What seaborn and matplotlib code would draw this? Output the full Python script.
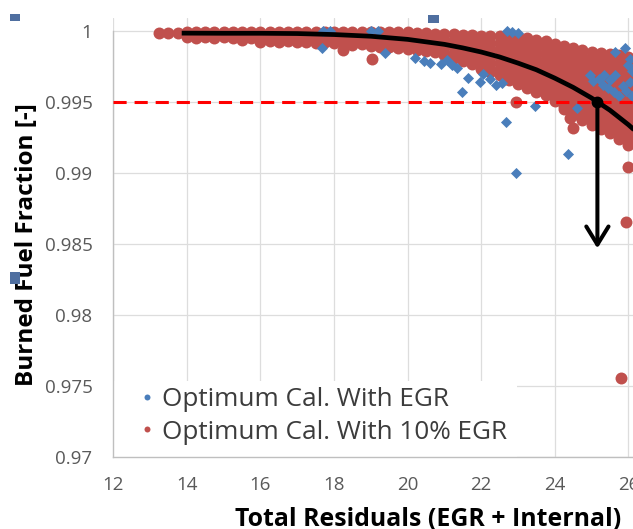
import matplotlib
matplotlib.use("Agg")
import matplotlib.pyplot as plt
from matplotlib.lines import Line2D
from matplotlib.patches import Rectangle
import seaborn as sns

# ---------------- data ----------------
series_names = ["Optimum Cal. With EGR", "Optimum Cal. With 10% EGR"]
series_colors = ["#4A7EBB", "#C0504D"]

# 10% EGR calibration: columns of points (x = total residuals, y = burned fraction)
red_band_x = [13.25, 13.5, 13.75, 14.0, 14.25, 14.5, 14.75, 15.0, 15.25, 15.5, 15.75,
              16.0, 16.25, 16.5, 16.75, 17.0, 17.25, 17.5, 17.75, 18.0, 18.25, 18.5,
              18.75, 19.0, 19.25, 19.5, 19.75, 20.0, 20.25, 20.5, 20.75, 21.0, 21.25,
              21.5, 21.75, 22.0, 22.25, 22.5, 22.75, 23.0, 23.25, 23.5, 23.75, 24.0,
              24.25, 24.5, 24.75, 25.0, 25.25, 25.5, 25.75, 26.0, 26.25]
red_band_y = [
    [0.99986], [0.99988], [0.99986],
    [0.99994, 0.99955], [0.99992, 0.99952], [0.99994, 0.99958], [0.99993, 0.99950],
    [0.99995, 0.99955], [0.99992, 0.99950], [0.99994, 0.99955, 0.99935], [0.99993, 0.99952],
    [0.99995, 0.99958, 0.99925], [0.99992, 0.99955, 0.99930], [0.99994, 0.99955, 0.99922],
    [0.99993, 0.99958, 0.99928], [0.99995, 0.99955, 0.99920], [0.99992, 0.99955, 0.99925],
    [0.99994, 0.99958, 0.99918], [0.99993, 0.99955, 0.99922], [0.99994, 0.99955, 0.99915],
    [0.99992, 0.99952, 0.99912], [0.99994, 0.99955, 0.99915, 0.99900],
    [0.99992, 0.99952, 0.99910], [0.99993, 0.99952, 0.99910, 0.99895],
    [0.99991, 0.99950, 0.99908, 0.99890], [0.99992, 0.99950, 0.99905, 0.99885],
    [0.99990, 0.99948, 0.99905, 0.99878], [0.99990, 0.99948, 0.99905, 0.99870],
    [0.99988, 0.99945, 0.99900, 0.99865], [0.99986, 0.99942, 0.99898, 0.99860],
    [0.99982, 0.99940, 0.99895, 0.99852], [0.99978, 0.99935, 0.99890, 0.99845, 0.99830],
    [0.99976, 0.99932, 0.99885, 0.99840, 0.99810],
    [0.99974, 0.99930, 0.99882, 0.99835, 0.99790],
    [0.99970, 0.99925, 0.99878, 0.99830, 0.99785, 0.99765],
    [0.99965, 0.99920, 0.99872, 0.99825, 0.99778, 0.99735],
    [0.99965, 0.99918, 0.99870, 0.99822, 0.99775, 0.99730, 0.99712],
    [0.99962, 0.99915, 0.99868, 0.99820, 0.99772, 0.99725, 0.99690],
    [0.99960, 0.99912, 0.99865, 0.99818, 0.99770, 0.99722, 0.99675, 0.99655],
    [0.99958, 0.99910, 0.99862, 0.99815, 0.99768, 0.99720, 0.99672, 0.99625],
    [0.99950, 0.99902, 0.99855, 0.99808, 0.99760, 0.99712, 0.99665, 0.99618, 0.99600],
    [0.99940, 0.99892, 0.99845, 0.99798, 0.99750, 0.99702, 0.99655, 0.99608, 0.99572],
    [0.99928, 0.99880, 0.99832, 0.99785, 0.99738, 0.99690, 0.99642, 0.99595, 0.99548],
    [0.99910, 0.99862, 0.99815, 0.99768, 0.99720, 0.99672, 0.99625, 0.99578, 0.99530, 0.99505],
    [0.99895, 0.99848, 0.99800, 0.99752, 0.99705, 0.99658, 0.99610, 0.99562, 0.99515,
     0.99468, 0.99450],
    [0.99880, 0.99832, 0.99785, 0.99738, 0.99690, 0.99642, 0.99595, 0.99548, 0.99500,
     0.99452, 0.99405],
    [0.99865, 0.99818, 0.99770, 0.99722, 0.99675, 0.99628, 0.99580, 0.99532, 0.99485,
     0.99438, 0.99390, 0.99370],
    [0.99852, 0.99805, 0.99758, 0.99710, 0.99662, 0.99615, 0.99568, 0.99520, 0.99472,
     0.99425, 0.99378, 0.99340],
    [0.99845, 0.99798, 0.99750, 0.99702, 0.99655, 0.99608, 0.99560, 0.99512, 0.99465,
     0.99418, 0.99370, 0.99322, 0.99310],
    [0.99838, 0.99790, 0.99742, 0.99695, 0.99648, 0.99600, 0.99552, 0.99505, 0.99458,
     0.99410, 0.99362, 0.99315, 0.99280],
    [0.99828, 0.99780, 0.99732, 0.99685, 0.99638, 0.99590, 0.99542, 0.99495, 0.99448,
     0.99400, 0.99352, 0.99305, 0.99258, 0.99240],
    [0.99818, 0.99770, 0.99722, 0.99675, 0.99628, 0.99580, 0.99532, 0.99485, 0.99438,
     0.99390, 0.99342, 0.99295, 0.99248, 0.99200],
    [0.99812, 0.99765, 0.99718, 0.99670, 0.99622, 0.99575, 0.99528, 0.99480, 0.99432,
     0.99385, 0.99338, 0.99290, 0.99242, 0.99195],
]
# isolated 10% EGR points
red_extra_x = [18.24, 19.02, 22.96, 24.41, 24.50, 26.00, 25.94, 25.80]
red_extra_y = [0.99866, 0.99800, 0.99501, 0.99384, 0.99313, 0.99042, 0.98652, 0.97558]

# EGR calibration points that show around the 10% EGR cloud
blue_x = [17.70, 17.90, 19.00, 19.20, 17.66, 19.39, 20.61, 20.20, 20.45, 20.90, 21.20,
          21.35, 21.06, 21.47, 21.65, 21.97, 22.05, 22.25, 22.40, 22.56, 22.67, 22.95,
          23.46, 24.35, 24.60, 22.70, 22.85, 23.00, 24.95, 25.05, 25.20, 25.30, 25.35,
          25.45, 25.50, 25.60, 25.65, 25.75, 25.85, 25.95, 26.05, 26.10, 25.64, 26.05,
          26.10, 25.90, 26.00]
blue_y = [1.00003, 1.00002, 1.00001, 1.00003, 0.99878, 0.99843, 0.99772, 0.99810,
          0.99790, 0.99770, 0.99760, 0.99740, 0.99795, 0.99572, 0.99666, 0.99640,
          0.99700, 0.99660, 0.99620, 0.99631, 0.99356, 0.99000, 0.99471, 0.99130,
          0.99454, 1.00003, 0.99995, 0.99985, 0.99690, 0.99650, 0.99665, 0.99620,
          0.99690, 0.99600, 0.99655, 0.99570, 0.99690, 0.99545, 0.99610, 0.99580,
          0.99640, 0.99540, 0.99854, 0.99800, 0.99720, 0.99880, 0.99760]

# trend line through the 10% EGR cloud
trend_x = [13.86, 15, 16, 17, 18, 19, 20, 21, 21.5, 22, 22.5, 23, 23.5, 24, 24.5,
           25, 25.5, 26, 26.5]
trend_y = [0.99985, 0.99984, 0.99984, 0.99982, 0.99975, 0.99963, 0.99941, 0.99906,
           0.99881, 0.99852, 0.99817, 0.99774, 0.99727, 0.99668, 0.99603, 0.99528,
           0.99442, 0.99340, 0.99225]

threshold = 0.995
limit_x = 25.16
arrow_end_y = 0.98468

x_ticks = [12, 14, 16, 18, 20, 22, 24, 26]
y_ticks = [0.97, 0.975, 0.98, 0.985, 0.99, 0.995, 1.0]
y_tick_labels = ["0.97", "0.975", "0.98", "0.985", "0.99", "0.995", "1"]

# ---------------- style ----------------
sns.set_style("white")
plt.rcParams["font.family"] = ["Open Sans", "DejaVu Sans"]

W, H = 633, 529
fig = plt.figure(figsize=(W / 100, H / 100), dpi=100)
fig.patch.set_facecolor("white")

ax_left, ax_bottom_px, ax_top_px = 113.3, 456.7, 18.0
ax_h_px = ax_bottom_px - ax_top_px
ax = fig.add_axes([ax_left / W, (H - ax_bottom_px) / H,
                   (W - ax_left) / W, ax_h_px / H])

# ---------------- scatter ----------------
red_x = [x for x, ys in zip(red_band_x, red_band_y) for _ in ys] + red_extra_x
red_y = [y for ys in red_band_y for y in ys] + red_extra_y

sns.scatterplot(x=red_x, y=red_y, color=series_colors[1], marker="o", s=74,
                linewidth=0, ax=ax, zorder=3, legend=False)
sns.scatterplot(x=blue_x, y=blue_y, color=series_colors[0], marker="D", s=32,
                linewidth=0, ax=ax, zorder=3.1, legend=False)

# threshold, trend and read-off arrow
ax.axhline(threshold, color="#FF0000", lw=2.2, ls=(0, (4.3, 2.6)), zorder=4)
ax.plot(trend_x, trend_y, color="black", lw=3.4, zorder=5, solid_capstyle="butt")
ax.plot([limit_x], [threshold], marker="o", ms=7.5, color="black", zorder=6)
ax.annotate("", xy=(limit_x, arrow_end_y), xytext=(limit_x, threshold),
            arrowprops=dict(arrowstyle="->,head_length=1.3,head_width=0.8",
                            lw=2.9, color="black", shrinkA=0, shrinkB=0),
            zorder=6)

# ---------------- axes ----------------
ax.set_xlim(12, 12 + (W - ax_left) / 36.786)
ax.set_ylim(0.97, 1.0 + (31.0 - ax_top_px) / 14190)
ax.set_xticks(x_ticks)
ax.set_yticks(y_ticks)
ax.set_yticklabels(y_tick_labels)

ax.grid(True, color="#DDDDDD", lw=0.9)
ax.set_axisbelow(True)
for side in ["top", "right"]:
    ax.spines[side].set_visible(False)
for side in ["left", "bottom"]:
    ax.spines[side].set_color("#BFBFBF")
    ax.spines[side].set_linewidth(1.0)
ax.spines["left"].set_bounds(0.97, 1.0)

ax.tick_params(axis="both", colors="#BFBFBF", labelcolor="#595959",
               labelsize=13.5, direction="inout", length=6, width=1)
ax.tick_params(axis="y", pad=12)
ax.tick_params(axis="x", pad=11)

ax.set_xlabel("Total Residuals (EGR + Internal)", fontsize=17.9,
              fontweight="bold", color="black")
ax.xaxis.label.set_va("baseline")
ax.xaxis.set_label_coords(0.6055, -(525.5 - ax_bottom_px) / ax_h_px)
ax.set_ylabel("Burned Fuel Fraction [-]", fontsize=17.5, fontweight="bold",
              color="black")
ax.yaxis.label.set_va("baseline")
ax.yaxis.set_label_coords((33 - ax_left) / (W - ax_left),
                          (ax_bottom_px - 245.0) / ax_h_px)

# legend on an opaque white patch
ax.add_patch(Rectangle((0, 0), (517 - ax_left) / (W - ax_left),
                       (ax_bottom_px - 381) / ax_h_px,
                       transform=ax.transAxes, facecolor="white",
                       edgecolor="none", zorder=2))
handles = [Line2D([], [], ls="none", marker="o", ms=4.3, color=c,
                  markeredgewidth=0) for c in series_colors]
leg = ax.legend(handles, series_names, loc="center left",
                bbox_to_anchor=(0.0545, (ax_bottom_px - 416) / ax_h_px),
                frameon=False, fontsize=18.8, handlelength=0.4, handletextpad=0.37,
                labelspacing=0.27, borderpad=0, borderaxespad=0)
for t in leg.get_texts():
    t.set_color("#3C3C3C")
leg.set_zorder(7)

# small selection handles along the chart edge
for (px, py, pw, ph) in [(10, 14, 10, 7), (428, 15, 11, 8), (10, 272, 10, 12)]:
    fig.patches.append(Rectangle((px / W, 1 - (py + ph) / H), pw / W, ph / H,
                                 transform=fig.transFigure, facecolor="#4F6FA0",
                                 edgecolor="none", zorder=10))

fig.savefig("out.png", dpi=100)
